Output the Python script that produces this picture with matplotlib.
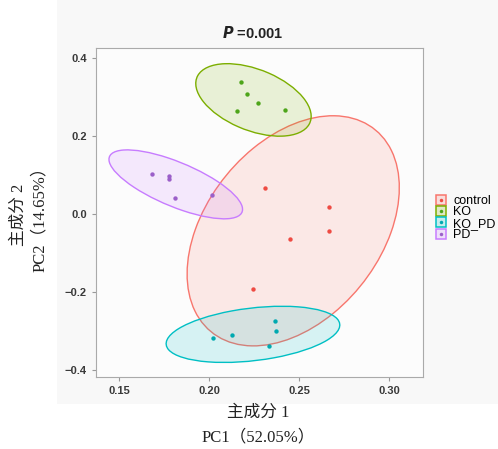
import numpy as np
import matplotlib.pyplot as plt
from matplotlib.lines import Line2D
from matplotlib.patches import Ellipse, Rectangle
from matplotlib.legend_handler import HandlerTuple

groups = ["control", "KO", "KO_PD", "PD"]
colors = ["#F8766D", "#7CAE00", "#00BFC4", "#C77CFF"]
dot_colors = ["#EE4B43", "#4DA51A", "#00A9B0", "#9B5FC9"]

pc1 = {
    "control": [0.2310, 0.2667, 0.2663, 0.2448, 0.2241],
    "KO": [0.2174, 0.2211, 0.2269, 0.2152, 0.2419],
    "KO_PD": [0.2363, 0.2372, 0.2124, 0.2019, 0.2333],
    "PD": [0.1682, 0.1778, 0.1778, 0.1811, 0.2017],
}
pc2 = {
    "control": [0.067, 0.018, -0.044, -0.063, -0.193],
    "KO": [0.338, 0.309, 0.286, 0.265, 0.266],
    "KO_PD": [-0.274, -0.300, -0.311, -0.319, -0.339],
    "PD": [0.104, 0.098, 0.090, 0.041, 0.048],
}

xticks = [0.15, 0.20, 0.25, 0.30]
yticks = [-0.4, -0.2, 0.0, 0.2, 0.4]

# ellipse scale (number of std devs along each axis)
radius = 3.0

fig = plt.figure(figsize=(4.98, 4.49), dpi=100)
fig.patch.set_facecolor("white")
fig.patches.append(Rectangle((57 / 498, 1 - 404 / 449), 1 - 57 / 498, 404 / 449,
                             transform=fig.transFigure, facecolor="#f8f8f8",
                             edgecolor="none", zorder=-10))

ax = fig.add_axes([96 / 498, 1 - 377 / 449, 327 / 498, 329 / 449])
ax.set_facecolor("#fcfcfc")

for g, c, dc in zip(groups, colors, dot_colors):
    x = np.array(pc1[g])
    y = np.array(pc2[g])
    cov = np.cov(x, y)
    vals, vecs = np.linalg.eigh(cov)
    angle = np.degrees(np.arctan2(vecs[1, 1], vecs[0, 1]))
    w, h = 2 * radius * np.sqrt(vals[1]), 2 * radius * np.sqrt(vals[0])
    ax.add_patch(Ellipse((x.mean(), y.mean()), w, h, angle=angle,
                         facecolor=c, alpha=0.15, edgecolor="none"))
    ax.add_patch(Ellipse((x.mean(), y.mean()), w, h, angle=angle,
                         facecolor="none", edgecolor=c, linewidth=1.0))
    ax.scatter(x, y, s=10, color=dc, zorder=3, linewidths=0)

ax.set_xlim(0.137, 0.3187)
ax.set_ylim(-0.418, 0.426)
ax.set_xticks(xticks)
ax.set_xticklabels(["%.2f" % v for v in xticks])
ax.set_yticks(yticks)
ax.set_yticklabels(["%.1f" % v if v >= 0 else "\u2212%.1f" % -v for v in yticks])
ax.tick_params(labelsize=8, colors="#999999", labelcolor="#3a3a3a", length=3, width=0.8)
for lab in ax.get_xticklabels() + ax.get_yticklabels():
    lab.set_fontweight("bold")
    lab.set_family("Liberation Sans")
for s in ax.spines.values():
    s.set_color("#aaaaaa")
    s.set_linewidth(0.8)

fig.text(253 / 498, 1 - 33 / 449, r"$\bfit{P}$" + " =0.001", ha="center", va="center",
         fontsize=10.5, fontweight="bold", color="#222222", family="Liberation Sans")

cjk = ["Liberation Serif", "Noto Sans CJK SC"]
fig.text(258 / 498, 1 - 413 / 449, "主成分 1", ha="center", va="center",
         fontsize=12, family=cjk, color="#222222")
fig.text(258 / 498, 1 - 437 / 449, "PC1（52.05%）", ha="center", va="center",
         fontsize=12, family=cjk, color="#222222")
fig.text(19 / 498, 1 - 215 / 449, "主成分 2", ha="center", va="center",
         rotation=90, fontsize=12, family=cjk, color="#222222")
fig.text(40 / 498, 1 - 215 / 449, "PC2（14.65%）", ha="center", va="center",
         rotation=90, fontsize=12, family=cjk, color="#222222")

handles = []
for c, dc in zip(colors, dot_colors):
    sq = Line2D([], [], marker="s", linestyle="none", markersize=6.6,
                markerfacecolor=c + "33", markeredgecolor=c, markeredgewidth=1.1)
    dot = Line2D([], [], marker="o", linestyle="none", markersize=2.5,
                 markerfacecolor=dc, markeredgecolor="none")
    handles.append((sq, dot))
leg = fig.legend(handles, groups, handler_map={tuple: HandlerTuple(ndivide=1, pad=0)},
                 loc="center left", bbox_to_anchor=(432 / 498, 1 - 218 / 449),
                 frameon=False, prop={"family": "Liberation Sans", "size": 9},
                 handlelength=0.7, handletextpad=0.6,
                 labelspacing=-0.05, borderaxespad=0)

fig.savefig("out.png", dpi=100)
